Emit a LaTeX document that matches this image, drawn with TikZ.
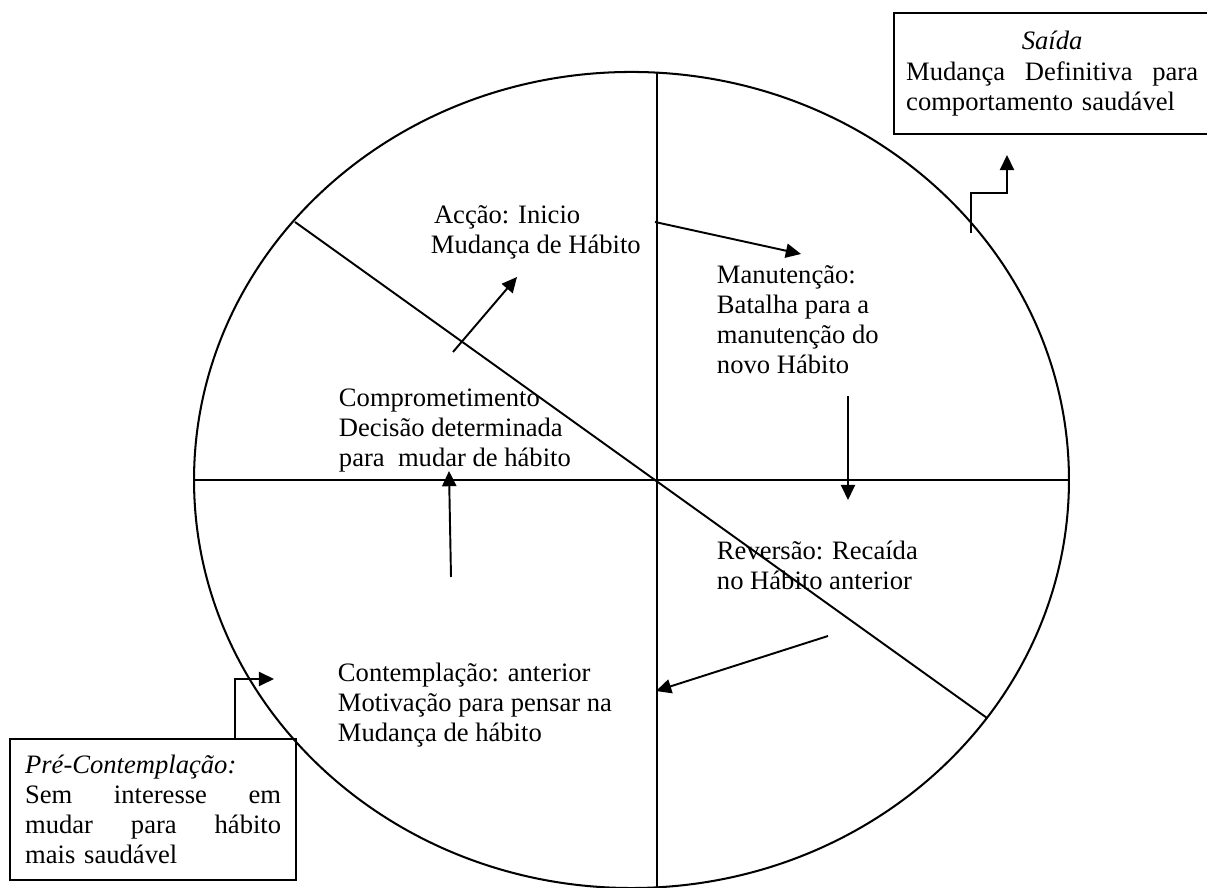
\documentclass[tikz,border=0pt]{standalone}
\usepackage{fontspec}
\setmainfont{Liberation Serif}
\usetikzlibrary{arrows.meta}
\tikzset{
	txt/.style={anchor=base west,inner sep=0pt,align=left},
	box/.style={draw,line width=1.1pt,anchor=north west,inner ysep=0pt,align=left}
}
\newcommand\spread[2]{\leavevmode\hbox to#1{#2}}
\begin{document}
\begin{tikzpicture}[>={Triangle[length=7.5pt,width=7pt]},x=0.4926pt,y=-0.4926pt,line width=0.95pt,font=\fontsize{13.1}{14.8}\selectfont]
	\def\cx{631.5}
	\def\cy{480}
	\def\pw{126.1pt}
	\def\sw{143.8pt}
	\useasboundingbox (0,0) rectangle (1207,888);
	\draw[line width=1pt] (\cx,\cy) ellipse [x radius=215.5pt, y radius=201pt];
	\draw (657,72.7) -- (657,887.3);
	\draw (194,\cy) -- (1069,\cy);
	\draw (295,222) -- (987,718);
	% stages (base = last line)
	\node[txt] (accao) at (430,254) {\hspace*{1.5pt}Acção: Inicio\\Mudança de Hábito};
	\node[txt] (manut) at (716,374) {Manutenção:\\Batalha para a\\manutenção do\\novo Hábito};
	\node[txt] (compr) at (338,467) {Comprometimento\\Decisão determinada\\para\ \ mudar de hábito};
	\node[txt] (contem) at (337,742) {Contemplação: anterior\\Motivação para pensar na\\Mudança de hábito};
	\node[txt] (rever) at (716,590) {Reversão: Recaída\\no Hábito anterior};
	\node[box,inner xsep=7.4pt,minimum width=140.9pt,minimum height=69.5pt,text width=\pw] (precont) at (9,738)
		{\textit{Pré-Contemplação:}\\\spread{\pw}{Sem\hfill interesse\hfill em}\\\spread{\pw}{mudar\hfill para\hfill hábito}\\mais saudável};
	\node[box,inner xsep=5pt,minimum width=155.7pt,minimum height=59.6pt,text width=\sw] (saida) at (893,12)
		{\spread{\sw}{\hfill\textit{Saída}\hfill}\\\spread{\sw}{Mudança\hfill Definitiva\hfill para}\\comportamento saudável};
	% arrows
	\coordinate (c1) at (453,352);
	\coordinate (c2) at (517,277);
	\coordinate (m1) at (655,222);
	\coordinate (m2) at (801,254);
	\coordinate (r1) at (848,396);
	\coordinate (r2) at (848,500);
	\coordinate (v1) at (828,636);
	\coordinate (v2) at (656,691);
	\coordinate (k1) at (451,577);
	\coordinate (k2) at (449,471);
	\coordinate (p1) at (235,738);
	\coordinate (p2) at (274,679);
	\coordinate (s1) at (971,233);
	\coordinate (s2) at (1007,155);
	\draw[->] (c1) -- (c2);
	\draw[->] (m1) -- (m2);
	\draw[->] (r1) -- (r2);
	\draw[->] (v1) -- (v2);
	\draw[->] (k1) -- (k2);
	\draw[->] (p1) |- (p2);
	\draw[->] (s1) -- ++(0,-40) -| (s2);
\end{tikzpicture}
\end{document}
